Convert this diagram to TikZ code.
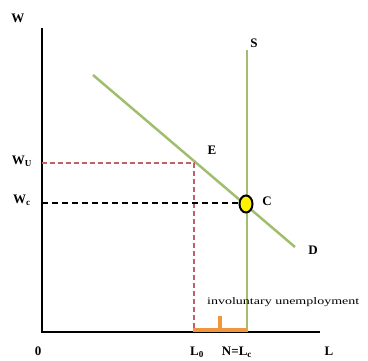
\documentclass[tikz,border=0pt]{standalone}
\usepackage{fontspec}
\setmainfont{Liberation Serif}
\usetikzlibrary{shapes.geometric}
\begin{document}
\begin{tikzpicture}[x=1pt,y=-1pt,
  lbl/.style={inner sep=0pt,font=\fontsize{13}{14}\selectfont\bfseries},
  axis/.style={line width=2pt,black},
  curve/.style={line width=2.5pt,color={rgb,255:red,160;green,190;blue,110}},
  reddash/.style={line width=2pt,color={rgb,255:red,195;green,95;blue,105},dash pattern=on 5pt off 3pt},
  blackdash/.style={line width=1.2pt,black,dash pattern=on 6pt off 4pt},
  orange/.style={line width=4pt,color={rgb,255:red,240;green,150;blue,60}}]
\useasboundingbox (0,0) rectangle (368,361);
% axes
\coordinate (top) at (42,28);
\coordinate (O) at (42,332);
\coordinate (right) at (320,332);
\draw[axis] (top) -- (O) -- (right);
% labels
\node[lbl] (W) at (18,18) {W};
\node[lbl] (zero) at (38,351) {0};
\node[lbl] (Lax) at (329,351) {L};
\node[lbl] (Wu) at (22,161) {W\textsubscript{U}};
\node[lbl] (Wc) at (22,200) {W\textsubscript{c}};
\node[lbl] (L0) at (197,352) {L\textsubscript{0}};
\node[lbl] (NL) at (237,352) {N=L\textsubscript{c}};
% curves
\coordinate (Stop) at (247,50);
\coordinate (Sbot) at (247,332);
\coordinate (Dtop) at (93,75);
\coordinate (Dbot) at (295,247);
\draw[curve] (Sbot) -- (Stop);
\draw[curve] (Dtop) -- (Dbot);
\node[lbl] (S) at (254,43) {S};
\node[lbl] (D) at (313,250) {D};
\node[lbl] (E) at (212,150) {E};
% dashed lines
\coordinate (Wuy) at (42,163);
\coordinate (Ept) at (194,163);
\coordinate (L0pt) at (194,330);
\draw[reddash] (Wuy) -- (Ept) -- (L0pt);
\coordinate (Wcy) at (42,203);
\coordinate (Cpt) at (240,203);
\draw[blackdash] (Wcy) -- (Cpt);
% C marker
\node[draw=black,line width=2pt,fill=yellow,ellipse,minimum width=13pt,minimum height=17pt,inner sep=0pt] (C) at (246,204) {};
\node[lbl] (Cl) at (267,201) {C};
% involuntary unemployment
\coordinate (ua) at (193,330);
\coordinate (ub) at (247,330);
\draw[orange] (ua) -- (ub);
\coordinate (ta) at (220,330);
\coordinate (tb) at (220,316);
\draw[orange] (ta) -- (tb);
\node[inner sep=0pt,anchor=west,font=\fontsize{10}{11}\selectfont] (iu) at (207,302) {\scalebox{1.4}[1]{involuntary unemployment}};
\end{tikzpicture}
\end{document}
